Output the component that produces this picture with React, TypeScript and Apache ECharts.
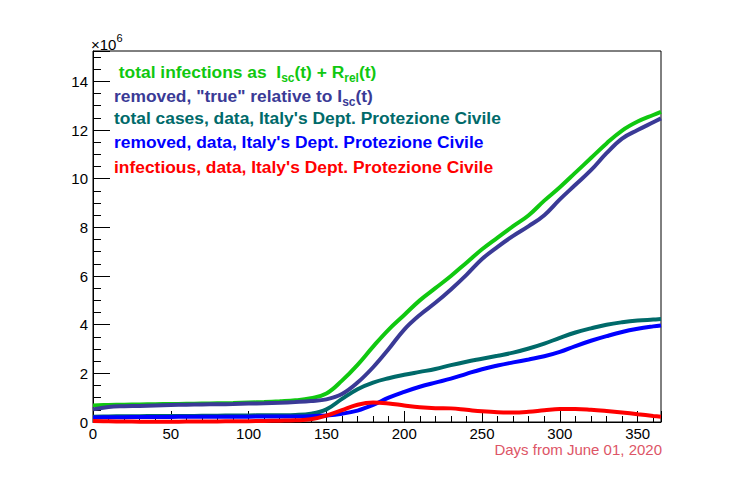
import React, { useEffect, useRef } from "react";
import * as echarts from "echarts";

const days = [0, 10, 20, 30, 40, 50, 60, 70, 80, 90, 100, 110, 120, 130, 140, 150, 160, 170, 180, 190, 200, 210, 220, 230, 240, 250, 260, 270, 280, 290, 300, 310, 320, 330, 340, 350, 360, 365];

const totalInfections = [0.68, 0.70, 0.71, 0.72, 0.73, 0.74, 0.75, 0.76, 0.77, 0.78, 0.80, 0.82, 0.85, 0.89, 0.98, 1.17, 1.70, 2.35, 3.10, 3.80, 4.40, 5.00, 5.50, 6.00, 6.55, 7.10, 7.58, 8.05, 8.50, 9.10, 9.65, 10.25, 10.85, 11.45, 11.98, 12.35, 12.62, 12.75];
const removedTrue = [0.52, 0.62, 0.65, 0.66, 0.68, 0.70, 0.71, 0.72, 0.73, 0.74, 0.76, 0.77, 0.79, 0.82, 0.86, 0.93, 1.15, 1.62, 2.25, 3.00, 3.80, 4.40, 4.90, 5.45, 6.05, 6.70, 7.20, 7.65, 8.05, 8.50, 9.15, 9.75, 10.35, 11.05, 11.65, 12.00, 12.32, 12.48];
const totalCases = [0.22, 0.23, 0.235, 0.24, 0.245, 0.25, 0.25, 0.255, 0.26, 0.265, 0.27, 0.275, 0.28, 0.29, 0.34, 0.52, 0.95, 1.35, 1.62, 1.80, 1.94, 2.06, 2.18, 2.34, 2.48, 2.60, 2.72, 2.85, 3.02, 3.22, 3.46, 3.68, 3.85, 4.00, 4.10, 4.17, 4.21, 4.23];
const removedData = [0.19, 0.195, 0.20, 0.205, 0.21, 0.21, 0.215, 0.215, 0.22, 0.22, 0.22, 0.225, 0.23, 0.23, 0.24, 0.27, 0.34, 0.47, 0.70, 1.00, 1.24, 1.45, 1.62, 1.78, 1.98, 2.17, 2.32, 2.45, 2.57, 2.70, 2.88, 3.12, 3.34, 3.53, 3.70, 3.83, 3.93, 3.97];
const infectious = [0.04, 0.03, 0.02, 0.015, 0.013, 0.014, 0.017, 0.02, 0.025, 0.03, 0.035, 0.045, 0.055, 0.07, 0.11, 0.26, 0.49, 0.71, 0.80, 0.76, 0.68, 0.61, 0.57, 0.56, 0.50, 0.44, 0.40, 0.39, 0.42, 0.48, 0.53, 0.53, 0.50, 0.45, 0.39, 0.32, 0.25, 0.22];

const xAxisTitle = "Days from June 01, 2020";

const GREEN = "#10c810";
const NAVY = "#3a3a96";
const TEAL = "#006a6a";
const BLUE = "#0000ff";
const RED = "#ff0000";

const FONT = "'Liberation Sans', Arial, Helvetica, sans-serif";

function pairs(vals: number[]) {
  return days.map((d, i) => [d, vals[i]]);
}

function legendText(y: number, x: number, color: string, text: string) {
  const main = { fontSize: 17.4, fontWeight: "bold", fontFamily: FONT, fill: color, lineHeight: 24 };
  const sub = { fontSize: 12, fontWeight: "bold", fontFamily: FONT, fill: color, lineHeight: 12, padding: [12, 0, 0, 0] };
  return {
    type: "text",
    left: x,
    top: y - 12,
    style: {
      text,
      rich: { a: main, s: sub },
      fontFamily: FONT,
    },
  };
}

export default function App() {
  const ref = useRef<HTMLDivElement>(null);
  useEffect(() => {
    document.body.style.margin = "0";
    const chart = echarts.init(ref.current!, null, { renderer: "svg" });
    const lineSeries = (name: string, vals: number[], color: string) => ({
      name,
      type: "line",
      data: pairs(vals),
      smooth: 0.4,
      showSymbol: false,
      symbol: "none",
      lineStyle: { width: 4, color },
      itemStyle: { color },
      clip: true,
    });
    chart.setOption({
      animation: false,
      backgroundColor: "#ffffff",
      grid: {
        left: 93,
        top: 51,
        right: 86,
        bottom: 62,
        show: true,
        borderColor: "#000",
        borderWidth: 1,
        backgroundColor: "transparent",
      },
      xAxis: {
        type: "value",
        min: 0,
        max: 365,
        interval: 50,
        axisLine: { show: true, onZero: false, lineStyle: { color: "#000", width: 1 } },
        axisTick: { show: true, inside: true, length: 11, lineStyle: { color: "#000" } },
        minorTick: { show: true, splitNumber: 5, length: 6, lineStyle: { color: "#000" } },
        splitLine: { show: false },
        axisLabel: { color: "#000", fontSize: 15, lineHeight: 15, fontFamily: FONT, margin: 4, showMaxLabel: false },
      },
      yAxis: {
        type: "value",
        min: 0,
        max: 15.25,
        interval: 2,
        axisLine: { show: true, onZero: false, lineStyle: { color: "#000", width: 1 } },
        axisTick: { show: true, inside: true, length: 17, lineStyle: { color: "#000" } },
        minorTick: { show: true, splitNumber: 4, length: 8, lineStyle: { color: "#000" } },
        splitLine: { show: false },
        axisLabel: { color: "#000", fontSize: 15, fontFamily: FONT, margin: 5, showMaxLabel: false },
      },
      series: [
        lineSeries("total infections", totalInfections, GREEN),
        lineSeries("removed true", removedTrue, NAVY),
        lineSeries("total cases", totalCases, TEAL),
        lineSeries("removed data", removedData, BLUE),
        lineSeries("infectious", infectious, RED),
      ],
      graphic: [
        {
          type: "text",
          left: 91,
          top: 32,
          style: {
            text: "{a|×10}{b|6}",
            rich: {
              a: { fontSize: 15, fontFamily: FONT, fill: "#000", lineHeight: 18, padding: [4, 0, 0, 0] },
              b: { fontSize: 11, fontFamily: FONT, fill: "#000", lineHeight: 12, padding: [0, 0, 10, 0] },
            },
          },
        },
        {
          type: "text",
          right: 747 - 662,
          top: 441.5,
          style: { text: xAxisTitle, fontSize: 15, lineHeight: 15, fontFamily: FONT, fill: "#dd5566" },
        },
        legendText(72, 114, GREEN, "{a| total infections as  I}{s|sc}{a|(t) + R}{s|rel}{a|(t)}"),
        legendText(96, 114, NAVY, "{a|removed, \"true\" relative to I}{s|sc}{a|(t)}"),
        legendText(121, 114, TEAL, "{a|total cases, data, Italy's Dept. Protezione Civile}"),
        legendText(145, 114, BLUE, "{a|removed, data, Italy's Dept. Protezione Civile}"),
        legendText(170, 114, RED, "{a|infectious, data, Italy's Dept. Protezione Civile}"),
      ],
    });
    return () => chart.dispose();
  }, []);
  return <div ref={ref} style={{ width: 747, height: 484 }} />;
}
